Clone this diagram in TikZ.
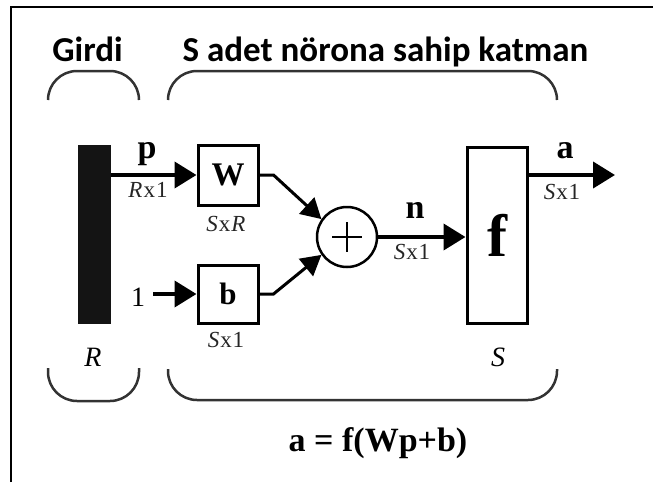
\documentclass[tikz,border=0pt]{standalone}
\usepackage{fontspec}
\setmainfont{Liberation Serif}
\newfontfamily\hdrfont{Carlito}
\usetikzlibrary{arrows.meta,calc}
\begin{document}
\begin{tikzpicture}[x=1pt,y=-1pt,
  hdr/.style={font=\hdrfont\bfseries\fontsize{35}{40}\selectfont, anchor=base, inner sep=0pt},
  box/.style={draw, line width=3pt, inner sep=0pt},
  sym/.style={font=\bfseries\fontsize{34}{40}\selectfont, inner sep=0pt},
  lbl/.style={font=\bfseries\fontsize{34}{40}\selectfont, inner sep=0pt, anchor=base},
  dim/.style={font=\fontsize{23}{26}\selectfont, inner sep=0pt, text=black!85},
  arr/.style={line width=4pt, -{Triangle[length=22pt,width=26pt]}},
  darr/.style={line width=3pt, -{Triangle[length=20pt,width=22pt]}},
  brace/.style={draw=black!80, line width=2.5pt, rounded corners=29pt},
]
\useasboundingbox (0,0) rectangle (653,482);
% frame
\draw[line width=2pt] (11,482) -- (11,7) -- (653,7);
% headers
\node[hdr] (girdi) at (87.5,61) {Girdi};
\node[hdr] (katman) at (385.5,61) {S adet nörona sahip katman};
% braces
\draw[brace] (48,100) -- (48,71) -- (139,71) -- (139,100);
\draw[brace] (168,100) -- (168,71) -- (557,71) -- (557,100);
\draw[brace] (48,368) -- (48,401) -- (139,401) -- (139,368);
\draw[brace] (168,369) -- (168,400) -- (557,400) -- (557,369);
% input bar
\node[fill=black!92, minimum width=33pt, minimum height=179pt, inner sep=0pt] (bar) at (94.5,234.5) {};
% boxes
\node[box, minimum width=60pt, minimum height=60pt, font=\bfseries\fontsize{33}{38}\selectfont] (W) at (228,175) {W};
\node[box, minimum width=60pt, minimum height=58pt, font=\bfseries\fontsize{31}{36}\selectfont] (b) at (228,294) {b};
\node[circle, draw, line width=2.5pt, minimum size=60pt, inner sep=0pt] (sum) at (347,237) {};
\draw[line width=2pt] ($(sum.center)+(-15,0)$) -- ($(sum.center)+(15,0)$);
\draw[line width=2pt] ($(sum.center)+(0,-15)$) -- ($(sum.center)+(0,15)$);
\node[box, minimum width=60pt, minimum height=176pt, font=\bfseries\fontsize{60}{66}\selectfont] (f) at (497,235) {f};
\node[font=\fontsize{28}{32}\selectfont, inner sep=0pt] (one) at (138,297) {1};
\coordinate (out) at (615,175);
% connectors
\draw[arr] (bar.east |- W.west) -- (W.west);
\draw[arr] ($(one.east |- b.west)+(8,0)$) -- (b.west);
\draw[darr] (W.east) -- ++(14,0) -- (sum.145);
\draw[darr] (b.east) -- ++(14,0) -- (sum.215);
\draw[arr] (sum.east) -- (f.west |- sum.east);
\draw[arr] (f.east |- out) -- (out);
% labels
\node[lbl] (plbl) at (147,158) {p};
\node[dim] (rx1) at (148,190) {\itshape R\upshape\kern1pt x\kern1pt 1};
\node[dim] (sxr) at (226,224) {\itshape S\upshape\kern1pt x\kern1pt\itshape R};
\node[dim] (sx1b) at (226,340) {\itshape S\upshape\kern1pt x\kern1pt 1};
\node[lbl] (nlbl) at (415,218) {n};
\node[dim] (sx1n) at (412,252) {\itshape S\upshape\kern1pt x\kern1pt 1};
\node[lbl] (albl) at (565,158) {a};
\node[dim] (sx1a) at (562,192) {\itshape S\upshape\kern1pt x\kern1pt 1};
\node[font=\itshape\fontsize{28}{32}\selectfont, inner sep=0pt] (rlbl) at (93,357) {R};
\node[font=\itshape\fontsize{28}{32}\selectfont, inner sep=0pt] (slbl) at (498,357) {S};
\node[sym] (formula) at (378,443) {a = f(Wp+b)};
\end{tikzpicture}
\end{document}
